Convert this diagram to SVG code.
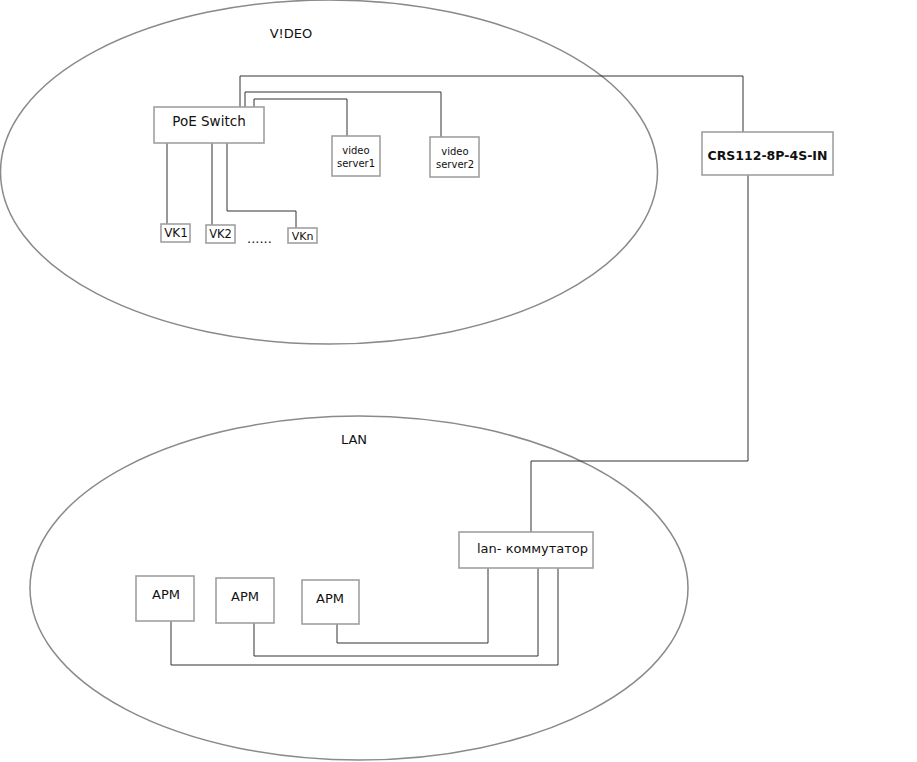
<svg xmlns="http://www.w3.org/2000/svg" width="917" height="762" viewBox="0 0 917 762">
<style>
  .zone{fill:none;stroke:#8a8a8a;stroke-width:1.5}
  .box{fill:#fff;stroke:#a0a0a0;stroke-width:1.6}
  .wire{fill:none;stroke:#333;stroke-width:1}
  text{font-family:"DejaVu Sans","Liberation Sans",sans-serif;fill:#111}
  .lbl{font-size:13px}
  .c{text-anchor:middle}
</style>
<rect width="917" height="762" fill="#fff"/>
<g id="zone-video">
  <ellipse class="zone" cx="329" cy="172" rx="328.5" ry="172"/>
  <text class="lbl c" x="291" y="38">V!DEO</text>
</g>
<g id="zone-lan">
  <ellipse class="zone" cx="359" cy="588" rx="329" ry="172"/>
  <text class="lbl c" x="354" y="444">LAN</text>
</g>
<g id="connectors">
  <polyline class="wire" points="240,107 240,76 743,76 743,132"/>
  <polyline class="wire" points="245,107 245,92 441,92 441,137"/>
  <polyline class="wire" points="254,107 254,99 347,99 347,136"/>
  <polyline class="wire" points="167,143 167,224"/>
  <polyline class="wire" points="212,143 212,225"/>
  <polyline class="wire" points="227,143 227,211 296,211 296,228"/>
  <polyline class="wire" points="748,175 748,461 531,461 531,532"/>
  <polyline class="wire" points="337,624 337,643 488,643 488,568"/>
  <polyline class="wire" points="254,623 254,656 538,656 538,568"/>
  <polyline class="wire" points="171,621 171,665 558,665 558,568"/>
</g>
<g id="poe-switch">
  <rect class="box" x="154" y="107" width="110" height="36"/>
  <text class="c" font-size="13.5" x="209" y="126">PoE Switch</text>
</g>
<g id="video-server1">
  <rect class="box" x="332" y="136" width="48" height="40"/>
  <text class="c" font-size="10" x="356" y="154">video</text>
  <text class="c" font-size="10" x="356" y="167">server1</text>
</g>
<g id="video-server2">
  <rect class="box" x="430" y="137" width="49" height="40"/>
  <text class="c" font-size="10" x="455" y="155">video</text>
  <text class="c" font-size="10" x="455" y="168">server2</text>
</g>
<g id="vk1">
  <rect class="box" x="161" y="224" width="29" height="18"/>
  <text class="c" font-size="12" x="176" y="237">VK1</text>
</g>
<g id="vk2">
  <rect class="box" x="206" y="225" width="29" height="18"/>
  <text class="c" font-size="11.5" x="220.5" y="238">VK2</text>
</g>
<g id="dots">
  <text font-size="13" x="247" y="243">......</text>
</g>
<g id="vkn">
  <rect class="box" x="288" y="228" width="29" height="15"/>
  <text class="c" font-size="11" x="302.5" y="240">VKn</text>
</g>
<g id="crs112">
  <rect class="box" x="702" y="132" width="131" height="43"/>
  <text class="c" font-size="12.5" font-weight="bold" x="767.5" y="160">CRS112-8P-4S-IN</text>
</g>
<g id="lan-switch">
  <rect class="box" x="459" y="532" width="134" height="36"/>
  <text class="lbl" x="477" y="553">lan- коммутатор</text>
</g>
<g id="arm1">
  <rect class="box" x="136" y="576" width="58" height="45"/>
  <text class="lbl c" x="166" y="599">АРМ</text>
</g>
<g id="arm2">
  <rect class="box" x="216" y="578" width="58" height="45"/>
  <text class="lbl c" x="245" y="601">АРМ</text>
</g>
<g id="arm3">
  <rect class="box" x="302" y="580" width="57" height="44"/>
  <text class="lbl c" x="330" y="603">АРМ</text>
</g>
</svg>
